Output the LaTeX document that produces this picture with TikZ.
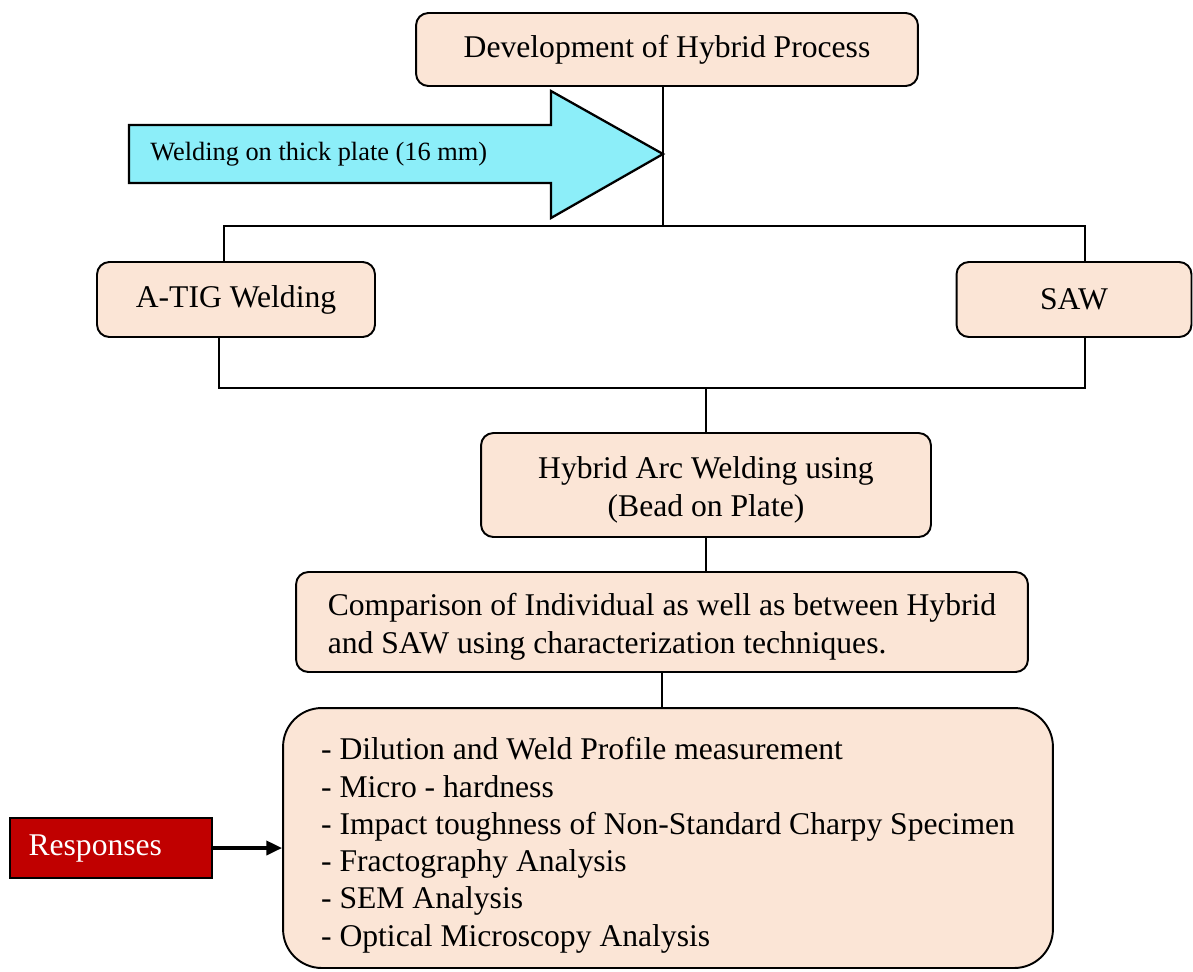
\documentclass[tikz,border=0pt]{standalone}
\usepackage{fontspec}
\setmainfont{Liberation Serif}
\usetikzlibrary{arrows.meta,positioning}

\definecolor{peach}{HTML}{FBE5D6}
\definecolor{skyarrow}{HTML}{8CEEF9}
\definecolor{respred}{HTML}{C00000}

\newcommand{\topstrut}[1]{\rule{0pt}{#1}}

\begin{document}
\begin{tikzpicture}[
			x=0.02cm, y=-0.02cm,
			font=\fontsize{18}{21.2}\selectfont,
			>={Triangle[length=9pt,width=8pt]},
			stage/.style={
				rectangle, rounded corners=7pt,
				draw=black, fill=peach, line width=1.1pt,
				align=center, inner sep=2pt
			},
			listbox/.style={
				rectangle, rounded corners=22pt,
				draw=black, fill=peach, line width=1.1pt,
				align=left, inner sep=2pt
			},
			tag/.style={
				rectangle, draw=black, fill=respred, line width=1.1pt,
				text=white, minimum width=4.04cm, minimum height=1.2cm,
				align=left, text width=3.3cm, inner xsep=0.37cm
			},
			banner/.style={draw=black, fill=skyarrow, line width=1.3pt},
			link/.style={draw=black, line width=1pt},
			arr/.style={->, black, line width=2pt}
			]
			\useasboundingbox (0,0) rectangle (1193,971);
			
			%% ── Top: process to be developed ───────────────────────────────────
			\node[stage, minimum width=10.04cm, minimum height=1.46cm] (dev) at (667, 49.5) {Development of Hybrid Process};
			
			%% ── Input banner arrow ─────────────────────────────────────────────
			\coordinate (tip) at (663, 154);
			\draw[banner] (129, 125) -- (551, 125) -- (551, 91) -- (tip)
				-- (551, 218) -- (551, 183) -- (129, 183) -- cycle;
			\node[anchor=west, inner sep=0pt, font=\fontsize{15}{18}\selectfont] (plate) at (150, 154) {Welding on thick plate (16 mm)};
			
			%% ── Split into the two processes ───────────────────────────────────
			\coordinate (split) at (663, 226);
			\coordinate (lsplit) at (224, 226);
			\coordinate (rsplit) at (1085, 226);
			\draw[link] (dev.south -| split) -- (split);
			
			\node[stage, minimum width=5.56cm, minimum height=1.5cm] (atig) at (236, 299.5) {A-TIG Welding};
			\node[stage, minimum width=4.7cm, minimum height=1.5cm] (saw) at (1074, 299.5) {SAW};
			
			\draw[link] (lsplit |- atig.north) -- (lsplit) -- (rsplit) -- (rsplit |- saw.north);
			
			%% ── Join into hybrid welding ───────────────────────────────────────
			\coordinate (ljoin) at (219, 388);
			\coordinate (rjoin) at (1085, 388);
			\draw[link] (atig.south -| ljoin) -- (ljoin) -- (rjoin) -- (saw.south -| rjoin);
			
			\node[stage, minimum width=9.0cm, minimum height=2.08cm] (hybrid) at (706, 485) {\topstrut{18pt}Hybrid Arc Welding using\\(Bead on Plate)};
			\draw[link] (hybrid.north) -- (hybrid.north |- ljoin);
			
			%% ── Comparison ─────────────────────────────────────────────────────
			\node[stage, minimum width=14.64cm, minimum height=2.0cm, align=left] (compare) at (662, 622) {\topstrut{18pt}Comparison of Individual as well as between Hybrid\\and SAW using characterization techniques.};
			\draw[link] (hybrid.south) -- (hybrid.south |- compare.north);
			
			%% ── Responses list ─────────────────────────────────────────────────
			\node[listbox, minimum width=15.4cm, minimum height=5.2cm] (resp) at (668, 838) {
				\topstrut{21pt}- Dilution and Weld Profile measurement\\
				- Micro - hardness\\
				- Impact toughness of Non-Standard Charpy Specimen\\
				- Fractography Analysis\\
				- SEM Analysis\\
				- Optical Microscopy Analysis
			};
			\draw[link] (compare.south) -- (compare.south |- resp.north);
			
			\node[tag] (responses) at (111, 848) {Responses};
			\draw[arr] (responses.east) -- (resp.west |- responses.east);
			
		\end{tikzpicture}
\end{document}
